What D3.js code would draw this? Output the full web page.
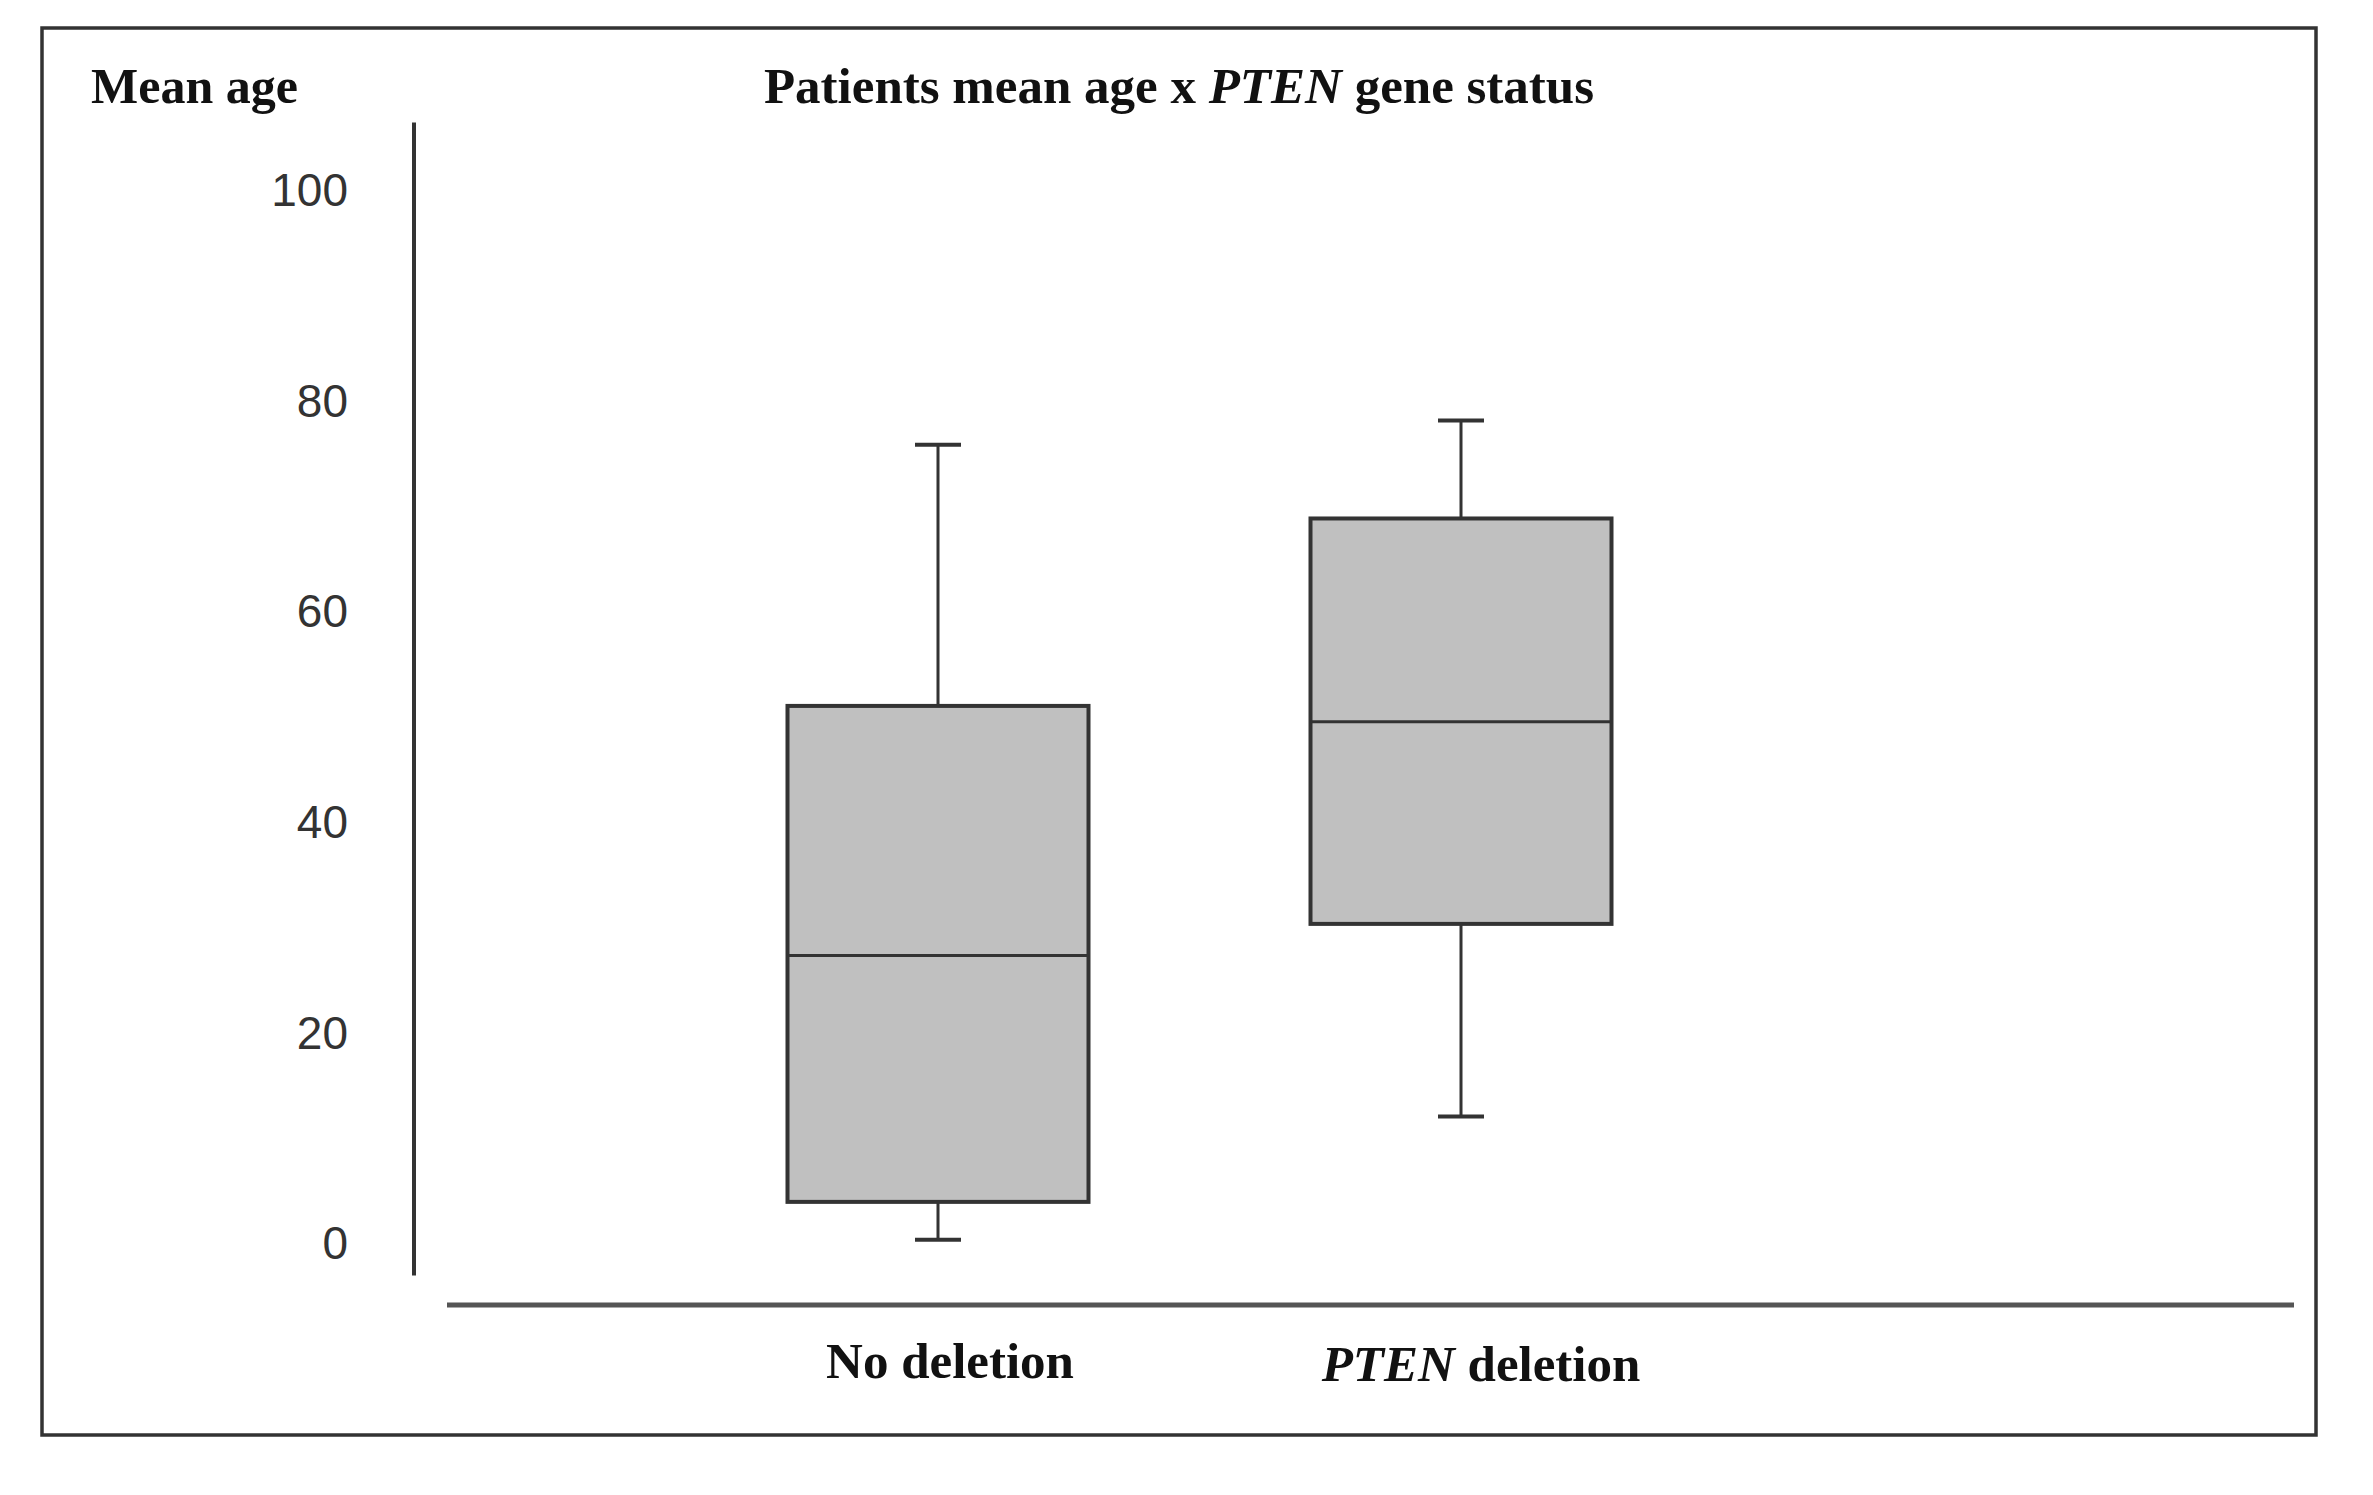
<!DOCTYPE html>
<html>
<head>
<meta charset="utf-8">
<script src="https://cdn.jsdelivr.net/npm/d3@7"></script>
<style>
  html, body { margin: 0; padding: 0; background: #fff; }
</style>
</head>
<body>
<div id="chart"></div>
<script>
// groups along the x axis
const groups = ["No deletion", "PTEN deletion"];
// box plot summaries (years)
const whiskerLow = [0.4, 12.1];
const quartile1 = [4.0, 30.4];
const medians = [27.4, 49.6];
const quartile3 = [51.1, 68.9];
const whiskerHigh = [75.9, 78.2];
// y tick labels
const yTicks = [0, 20, 40, 60, 80, 100];

const width = 2373, height = 1495;

const svg = d3.select("#chart").append("svg")
    .attr("width", width).attr("height", height);

// outer frame
svg.append("rect")
    .attr("x", 42).attr("y", 28)
    .attr("width", 2274).attr("height", 1407)
    .attr("fill", "none").attr("stroke", "#333").attr("stroke-width", 3.5);

const y = d3.scaleLinear().domain([0, 100]).range([1244, 191]);
const x = d3.scalePoint().domain(groups).range([938, 1461]);

// y axis: plain line, labels only
svg.append("line")
    .attr("x1", 414).attr("x2", 414)
    .attr("y1", y(106.5)).attr("y2", y(-3))
    .attr("stroke", "#333").attr("stroke-width", 4);

const yAxis = svg.append("g")
    .attr("transform", "translate(414,0)")
    .call(d3.axisLeft(y).tickValues(yTicks).tickSize(0).tickPadding(66));
yAxis.select(".domain").remove();
yAxis.selectAll("text")
    .attr("font-family", "'Liberation Sans', Arial, sans-serif")
    .attr("font-size", 46)
    .attr("fill", "#333");

// x axis line
svg.append("line")
    .attr("x1", 447).attr("x2", 2294)
    .attr("y1", 1305).attr("y2", 1305)
    .attr("stroke", "#555").attr("stroke-width", 5);

const boxW = 301, capW = 46;
const boxes = svg.append("g").selectAll("g")
    .data(groups.map((g, i) => ({
        g, lo: whiskerLow[i], q1: quartile1[i], med: medians[i], q3: quartile3[i], hi: whiskerHigh[i]
    })))
    .join("g");

// whiskers
boxes.append("line")
    .attr("x1", d => x(d.g)).attr("x2", d => x(d.g))
    .attr("y1", d => y(d.hi)).attr("y2", d => y(d.lo))
    .attr("stroke", "#333").attr("stroke-width", 3);
boxes.selectAll(".cap")
    .data(d => [{ g: d.g, v: d.lo }, { g: d.g, v: d.hi }])
    .join("line")
    .attr("class", "cap")
    .attr("x1", d => x(d.g) - capW / 2).attr("x2", d => x(d.g) + capW / 2)
    .attr("y1", d => y(d.v)).attr("y2", d => y(d.v))
    .attr("stroke", "#333").attr("stroke-width", 4);

// boxes
boxes.append("rect")
    .attr("x", d => x(d.g) - boxW / 2)
    .attr("y", d => y(d.q3))
    .attr("width", boxW)
    .attr("height", d => y(d.q1) - y(d.q3))
    .attr("fill", "#c0c0c0").attr("stroke", "#333").attr("stroke-width", 4);

// medians
boxes.append("line")
    .attr("x1", d => x(d.g) - boxW / 2).attr("x2", d => x(d.g) + boxW / 2)
    .attr("y1", d => y(d.med)).attr("y2", d => y(d.med))
    .attr("stroke", "#333").attr("stroke-width", 3);

const serif = "'Liberation Serif', 'Times New Roman', serif";

// axis title and chart title
svg.append("text")
    .attr("x", 91).attr("y", 103)
    .attr("font-family", serif).attr("font-weight", "bold").attr("font-size", 50)
    .attr("fill", "#111")
    .text("Mean age");

const title = svg.append("text")
    .attr("x", 1179).attr("y", 103)
    .attr("text-anchor", "middle")
    .attr("font-family", serif).attr("font-weight", "bold").attr("font-size", 51)
    .attr("fill", "#111");
title.append("tspan").text("Patients mean age x ");
title.append("tspan").attr("font-style", "italic").text("PTEN");
title.append("tspan").text(" gene status");

// category labels
const catLabels = svg.append("g").selectAll("text")
    .data(groups)
    .join("text")
    .attr("x", d => x(d) + (d === "PTEN deletion" ? 20 : 12))
    .attr("y", d => d === "PTEN deletion" ? 1381 : 1378)
    .attr("text-anchor", "middle")
    .attr("font-family", serif).attr("font-weight", "bold").attr("font-size", 51)
    .attr("fill", "#111");
catLabels.each(function (d) {
    const t = d3.select(this);
    if (d.startsWith("PTEN")) {
        t.append("tspan").attr("font-style", "italic").text("PTEN");
        t.append("tspan").text(d.slice(4));
    } else {
        t.text(d);
    }
});
</script>
</body>
</html>
